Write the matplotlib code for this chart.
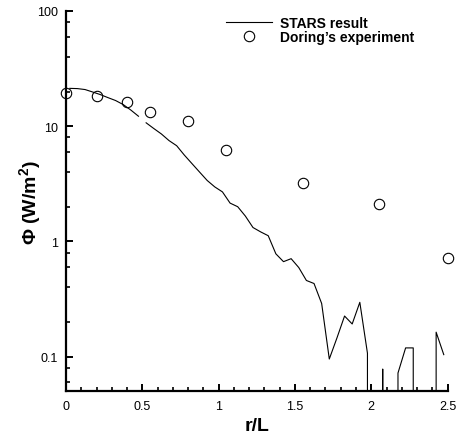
import numpy as np
import matplotlib
matplotlib.use('Agg')
import matplotlib.pyplot as plt
from matplotlib.ticker import LogLocator, MultipleLocator, FixedLocator, NullFormatter

plt.rcParams['font.family'] = ['Liberation Sans', 'DejaVu Sans']
plt.rcParams['mathtext.fontset'] = 'custom'
plt.rcParams['mathtext.rm'] = 'Liberation Sans'
plt.rcParams['mathtext.bf'] = 'Liberation Sans:bold'

# STARS computed flux, inner zone (r/L < 0.5)
r_inner = [0.025, 0.075, 0.125, 0.175, 0.225, 0.275, 0.325, 0.375, 0.425, 0.475]
phi_inner = [21.3, 21.2, 20.8, 19.8, 18.8, 17.7, 16.7, 15.4, 13.8, 12.2]

# STARS computed flux, outer zone (zeros fall off the log axis)
r_outer = [0.525, 0.575, 0.625, 0.675, 0.725, 0.775, 0.825, 0.875, 0.925, 0.975,
           1.025, 1.075, 1.125, 1.175, 1.225, 1.275, 1.325, 1.375, 1.425, 1.475,
           1.525, 1.575, 1.625, 1.675, 1.725, 1.775, 1.825, 1.875, 1.925, 1.975,
           2.025, 2.075, 2.125, 2.175, 2.225, 2.275, 2.325, 2.375, 2.425, 2.475]
phi_outer = [10.7, 9.55, 8.56, 7.5, 6.77, 5.62, 4.74, 4.0, 3.38, 2.97,
             2.69, 2.15, 2.0, 1.66, 1.32, 1.21, 1.12, 0.78, 0.667, 0.708,
             0.593, 0.458, 0.431, 0.289, 0.0953, 0.145, 0.225, 0.192, 0.296, 0.107,
             0.0, 0.078, 0.0, 0.072, 0.119, 0.119, 0.0, 0.0, 0.163, 0.104]

# Doring's measurements
r_exp = [0.0, 0.2, 0.4, 0.55, 0.8, 1.05, 1.55, 2.05, 2.5]
phi_exp = [19.3, 18.3, 16.2, 13.2, 11.1, 6.25, 3.23, 2.12, 0.72]

x_ticks = [0, 0.5, 1, 1.5, 2, 2.5]
x_labels = ['0', '0.5', '1', '1.5', '2', '2.5']
y_ticks = [0.1, 1, 10, 100]
y_labels = ['0.1', '1', '10', '100']

fig = plt.figure(figsize=(4.57, 4.39), dpi=100)
ax = fig.add_axes([0.1444, 0.1064, 0.835, 0.8663])

ax.set_yscale('log', nonpositive='clip')
ax.plot(r_inner, phi_inner, color='black', lw=0.8, label='STARS result')
ax.plot(r_outer, phi_outer, color='black', lw=0.8)
ax.plot(r_exp, phi_exp, 'o', mfc='none', mec='black', ms=7.5, mew=0.8,
        label="Doring\u2019s experiment", clip_on=False)

ax.set_xlim(0, 2.5)
ax.set_ylim(0.05, 100)

for s in ['top', 'right']:
    ax.spines[s].set_visible(False)
for s in ['left', 'bottom']:
    ax.spines[s].set_linewidth(1.6)

ax.xaxis.set_major_locator(FixedLocator(x_ticks))
ax.set_xticklabels(x_labels)
ax.xaxis.set_minor_locator(MultipleLocator(0.1))
ax.yaxis.set_major_locator(FixedLocator(y_ticks))
ax.set_yticklabels(y_labels)
ax.yaxis.set_minor_locator(LogLocator(base=10, subs=(2, 4, 6, 8)))
ax.yaxis.set_minor_formatter(NullFormatter())

ax.tick_params(which='major', direction='in', length=5, width=1.4, labelsize=9, pad=6)
ax.tick_params(which='minor', direction='in', length=3, width=1.2)

ax.set_xlabel('r/L', fontsize=14, fontweight='bold', labelpad=4)
ax.set_ylabel(r'Φ (W/m$^{\mathbf{2}}$)', fontsize=14, fontweight='bold', labelpad=-5)

leg = ax.legend(loc='upper left', bbox_to_anchor=(0.42, 0.987), frameon=False,
                prop={'weight': 'bold', 'size': 10}, handlelength=3.3,
                handletextpad=0.6, labelspacing=0.0, borderpad=0, borderaxespad=0)

fig.savefig('out.png', dpi=100)
